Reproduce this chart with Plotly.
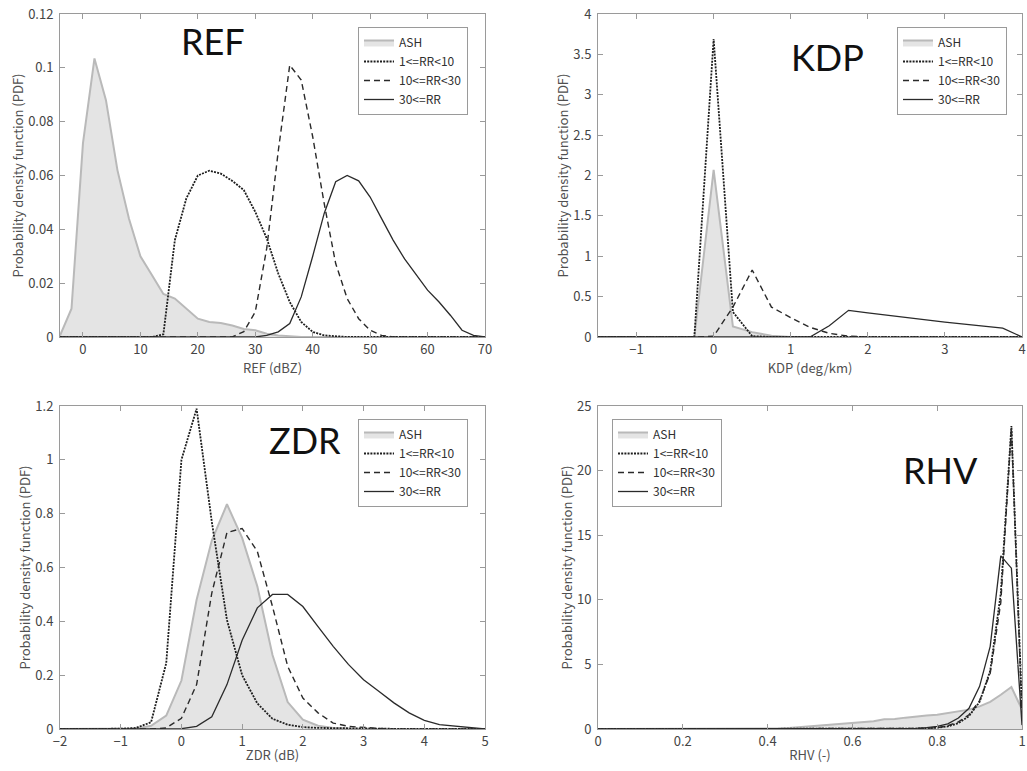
import plotly.graph_objects as go

# ---------------- data ----------------
SERIES = ["ASH", "1&lt;=RR&lt;10", "10&lt;=RR&lt;30", "30&lt;=RR"]

REF_X = [-4, -2, 0, 2, 4, 6, 8, 10, 12, 14, 16, 18, 20, 22, 24, 26, 28, 30, 32,
         34, 36, 38, 40, 42, 44, 46, 48, 50, 52, 54, 56, 58, 60, 62, 64, 66, 68, 70]
REF_ASH = [0.0005, 0.0105, 0.072, 0.1035, 0.088, 0.062, 0.044, 0.030, 0.023, 0.016,
           0.0143, 0.0105, 0.0068, 0.0056, 0.0052, 0.0043, 0.003, 0.0025, 0.0012,
           0.0006, 0.0002, 0, 0, 0, 0, 0, 0, 0, 0, 0, 0, 0, 0, 0, 0, 0, 0, 0]
REF_R1 = [0, 0, 0, 0, 0, 0, 0, 0, 0, 0.001, 0.036, 0.0515, 0.060, 0.0618, 0.0607,
          0.058, 0.0546, 0.0465, 0.0366, 0.0236, 0.013, 0.0056, 0.0019, 0.0006,
          0.0002, 0, 0, 0, 0, 0, 0, 0, 0, 0, 0, 0, 0, 0]
REF_R2 = [0, 0, 0, 0, 0, 0, 0, 0, 0, 0, 0, 0, 0, 0, 0, 0, 0.002, 0.0093, 0.033,
          0.069, 0.101, 0.0955, 0.0744, 0.0496, 0.0273, 0.0143, 0.0068, 0.0025,
          0.0006, 0, 0, 0, 0, 0, 0, 0, 0, 0]
REF_R3 = [0, 0, 0, 0, 0, 0, 0, 0, 0, 0, 0, 0, 0, 0, 0, 0, 0, 0, 0.0006, 0.0019,
          0.005, 0.0149, 0.030, 0.0459, 0.0577, 0.060, 0.058, 0.052, 0.044, 0.036,
          0.029, 0.023, 0.0174, 0.013, 0.008, 0.0025, 0.0006, 0]

KDP_X = [-1.5, -1.25, -1, -0.75, -0.5, -0.25, 0, 0.25, 0.5, 0.75, 1, 1.25, 1.5,
         1.75, 2, 2.25, 2.5, 2.75, 3, 3.25, 3.5, 3.75, 4]
KDP_ASH = [0, 0, 0, 0, 0, 0, 2.07, 0.13, 0.06, 0.015, 0, 0, 0, 0, 0, 0, 0, 0, 0,
           0, 0, 0, 0]
KDP_R1 = [0, 0, 0, 0, 0, 0, 3.69, 0.31, 0.01, 0, 0, 0, 0, 0, 0, 0, 0, 0, 0, 0,
          0, 0, 0]
KDP_R2 = [0, 0, 0, 0, 0, 0, 0.01, 0.37, 0.83, 0.37, 0.24, 0.12, 0.045, 0.01, 0,
          0, 0, 0, 0, 0, 0, 0, 0]
KDP_R3 = [0, 0, 0, 0, 0, 0, 0, 0, 0, 0, 0, 0, 0.14, 0.33, 0.30, 0.27, 0.24, 0.21,
          0.185, 0.16, 0.135, 0.11, 0]

ZDR_X = [-2, -1.75, -1.5, -1.25, -1, -0.75, -0.5, -0.25, 0, 0.25, 0.5, 0.75, 1,
         1.25, 1.5, 1.75, 2, 2.25, 2.5, 2.75, 3, 3.25, 3.5, 3.75, 4, 4.25, 4.5,
         4.75, 5]
ZDR_ASH = [0, 0, 0, 0, 0, 0.002, 0.012, 0.05, 0.18, 0.48, 0.70, 0.835, 0.71, 0.53,
           0.275, 0.10, 0.035, 0.012, 0.004, 0.001, 0, 0, 0, 0, 0, 0, 0, 0, 0]
ZDR_R1 = [0, 0, 0, 0, 0.001, 0.004, 0.025, 0.245, 1.0, 1.19, 0.77, 0.405, 0.2,
          0.095, 0.038, 0.016, 0.007, 0.004, 0.003, 0.002, 0.002, 0.001, 0.001,
          0, 0, 0, 0, 0, 0]
ZDR_R2 = [0, 0, 0, 0, 0, 0, 0, 0.004, 0.04, 0.165, 0.505, 0.73, 0.745, 0.66,
          0.455, 0.233, 0.115, 0.06, 0.022, 0.01, 0.005, 0.002, 0, 0, 0, 0, 0, 0, 0]
ZDR_R3 = [0, 0, 0, 0, 0, 0, 0, 0, 0.001, 0.01, 0.045, 0.165, 0.33, 0.45, 0.50,
          0.50, 0.455, 0.38, 0.307, 0.24, 0.183, 0.14, 0.097, 0.06, 0.032, 0.016,
          0.01, 0.006, 0]

RHV_X = [0, 0.025, 0.05, 0.075, 0.1, 0.125, 0.15, 0.175, 0.2, 0.225, 0.25, 0.275,
         0.3, 0.325, 0.35, 0.375, 0.4, 0.425, 0.45, 0.475, 0.5, 0.525, 0.55,
         0.575, 0.6, 0.625, 0.65, 0.675, 0.7, 0.725, 0.75, 0.775, 0.8, 0.825,
         0.85, 0.875, 0.9, 0.925, 0.95, 0.975, 1.0]
RHV_ASH = [0, 0, 0, 0, 0, 0, 0, 0, 0, 0, 0, 0, 0, 0, 0, 0, 0.02, 0.05, 0.08, 0.14,
           0.2, 0.26, 0.33, 0.4, 0.46, 0.53, 0.6, 0.75, 0.77, 0.88, 0.98, 1.04,
           1.1, 1.24, 1.37, 1.5, 1.75, 2.1, 2.65, 3.25, 1.5]
RHV_R1 = [0] * 30 + [0.03, 0.06, 0.1, 0.2, 0.45, 1.0, 2.1, 4.5, 10.5, 23.45, 1.5]
RHV_R2 = [0] * 30 + [0.02, 0.05, 0.1, 0.25, 0.55, 1.1, 2.2, 4.3, 9.8, 23.3, 1.0]
RHV_R3 = [0] * 30 + [0.05, 0.1, 0.2, 0.4, 0.85, 1.6, 3.3, 6.4, 13.4, 12.45, 0.3]

PANELS = [
    dict(name="REF", xt="REF (dBZ)", x=REF_X, ys=[REF_ASH, REF_R1, REF_R2, REF_R3],
         xr=[-4, 70], xd=10, yr=[0, 0.12], yd=0.02),
    dict(name="KDP", xt="KDP (deg/km)", x=KDP_X, ys=[KDP_ASH, KDP_R1, KDP_R2, KDP_R3],
         xr=[-1.5, 4], xd=1, yr=[0, 4], yd=0.5),
    dict(name="ZDR", xt="ZDR (dB)", x=ZDR_X, ys=[ZDR_ASH, ZDR_R1, ZDR_R2, ZDR_R3],
         xr=[-2, 5], xd=1, yr=[0, 1.2], yd=0.2),
    dict(name="RHV", xt="RHV (-)", x=RHV_X, ys=[RHV_ASH, RHV_R1, RHV_R2, RHV_R3],
         xr=[0, 1], xd=0.2, yr=[0, 25], yd=5),
]

# ---------------- layout geometry (window pixels) ----------------
W, H = 1027, 771
XDOM = [(60, 485), (598, 1022), (60, 485), (598, 1022)]
YDOM = [(14, 337), (14, 337), (406, 729), (406, 729)]
LEG_POS = [(358, 27), (897, 27), (358, 419), (612, 419)]
LABEL_POS = [(213, 41), (827, 57), (305, 440), (940, 470)]


def px(v):
    return v / W


def py(v):
    return 1 - v / H


LINE_STYLES = [
    None,
    dict(color="#1e1e1e", width=1.8, dash="2px,1.2px"),
    dict(color="#2a2a2a", width=1.4, dash="6px,4px"),
    dict(color="#2a2a2a", width=1.3),
]

fig = go.Figure()
annotations = []
layout = dict(width=W, height=H, margin=dict(l=0, r=0, t=0, b=0, autoexpand=False),
              template="none",
              paper_bgcolor="white", plot_bgcolor="white",
              font=dict(family="Noto Sans CJK JP, Noto Sans, sans-serif",
                        size=12, color="#505050"))

for i, p in enumerate(PANELS):
    k = "" if i == 0 else str(i + 1)
    leg = "legend" if i == 0 else "legend" + str(i + 1)
    for j, (nm, yv) in enumerate(zip(SERIES, p["ys"])):
        if j == 0:
            tr = go.Scatter(x=p["x"], y=yv, mode="lines", name=nm, fill="tozeroy",
                            fillcolor="#e4e4e4",
                            line=dict(color="#b9b9b9", width=2))
        else:
            tr = go.Scatter(x=p["x"], y=yv, mode="lines", name=nm,
                            line=LINE_STYLES[j])
        tr.update(xaxis="x" + k, yaxis="y" + k, legend=leg)
        fig.add_trace(tr)

    x0, x1 = XDOM[i]
    y0, y1 = YDOM[i]
    axcommon = dict(showgrid=False, zeroline=False, showline=True, linecolor="#9a9a9a",
                    linewidth=1, mirror="allticks", ticks="inside", ticklen=5,
                    tickcolor="#9a9a9a", ticklabeloverflow="allow", automargin=False,
                    tickfont=dict(size=13, color="#444444"))
    layout["xaxis" + k] = dict(axcommon, domain=[px(x0), px(x1)], range=p["xr"],
                               dtick=p["xd"], tick0=0, anchor="y" + k,
                               title=dict(text=p["xt"], standoff=2,
                                          font=dict(size=13, color="#505050")))
    layout["yaxis" + k] = dict(axcommon, domain=[py(y1), py(y0)],
                               range=p["yr"], dtick=p["yd"], tick0=0,
                               anchor="x" + k, ticklabelstandoff=3,
                               title=dict(text="Probability density function (PDF)",
                                          standoff=1,
                                          font=dict(size=13, color="#505050")))
    lx, ly = LEG_POS[i]
    layout[leg] = dict(x=px(lx), y=py(ly), xanchor="left", yanchor="top",
                       bgcolor="white", bordercolor="#9a9a9a", borderwidth=1,
                       font=dict(size=12, color="#303030"), itemwidth=30,
                       tracegroupgap=0)
    ax, ay = LABEL_POS[i]
    annotations.append(dict(text=p["name"], x=px(ax), y=py(ay), xref="paper",
                            yref="paper", showarrow=False, xanchor="center",
                            yanchor="middle",
                            font=dict(family="Lato, Noto Sans, sans-serif",
                                      size=36, color="#111111")))

layout["annotations"] = annotations
fig.update_layout(**layout)
fig.write_html("out.html", config={"displayModeBar": False},
               post_script="document.body.style.margin='0px';"
                           "document.body.style.overflow='hidden';")
